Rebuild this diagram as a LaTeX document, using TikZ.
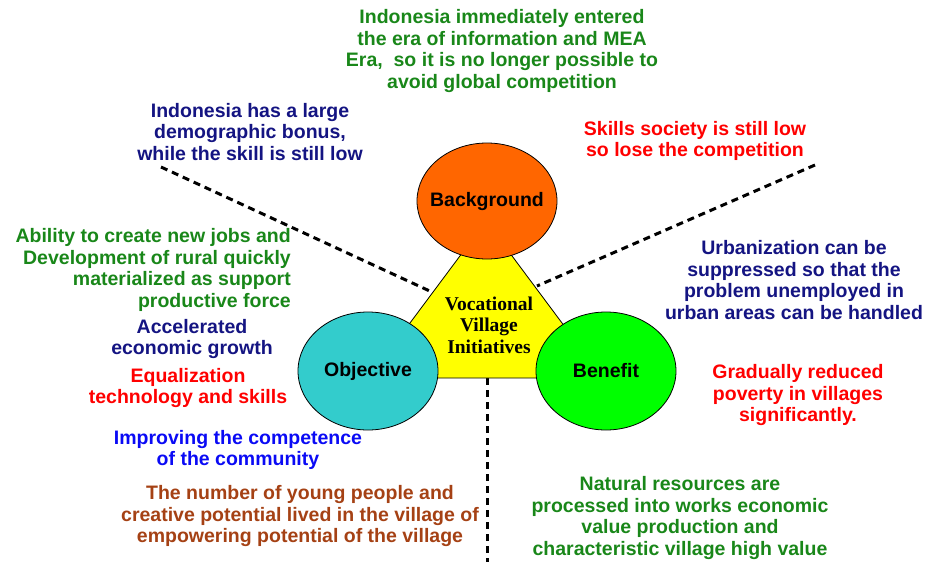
\documentclass[tikz,border=0pt]{standalone}
\usepackage{fontspec}
\setmainfont{Liberation Sans}
\newfontfamily\serifbold{Liberation Serif}
\usetikzlibrary{shapes.geometric}
\definecolor{tgreen}{RGB}{25,135,25}
\definecolor{tnavy}{RGB}{20,20,130}
\definecolor{tred}{RGB}{255,0,0}
\definecolor{tblue}{RGB}{10,10,245}
\definecolor{tbrown}{RGB}{165,65,20}
\definecolor{corange}{RGB}{255,102,0}
\definecolor{ccyan}{RGB}{51,204,204}
\definecolor{cgreen}{RGB}{0,255,0}
\definecolor{cyellow}{RGB}{255,255,0}
\tikzset{
  txt/.style={inner sep=0pt, align=center, font=\fontsize{19.5}{21.5}\selectfont\bfseries},
  bubble/.style={ellipse, draw=black, line width=0.8pt, minimum width=140pt, inner sep=0pt, font=\fontsize{19.5}{21.5}\selectfont\bfseries},
  dline/.style={line width=3pt, dash pattern=on 7pt off 5pt, black}
}
\begin{document}
\begin{tikzpicture}[x=1pt,y=-1pt]
\useasboundingbox (0,0) rectangle (927,562);
% connector ends
\coordinate (l0) at (161,167);
\coordinate (l1) at (434,293);
\coordinate (r0) at (815,165);
\coordinate (r1) at (537,286);
\coordinate (v0) at (487,378);
\coordinate (v1) at (487,562);
\draw[dline] (l0) -- (l1);
\draw[dline] (r0) -- (r1);
\draw[dline] (v0) -- (v1);
% triangle
\coordinate (ta) at (486,221);
\coordinate (tl) at (369,378);
\coordinate (tr) at (603,378);
\draw[fill=cyellow, line width=0.8pt] (ta) -- (tl) -- (tr) -- cycle;
\node[inner sep=0pt, align=center, font=\fontsize{19.5}{21.5}\selectfont\serifbold\bfseries] (center) at (489,325) {Vocational\\Village\\Initiatives};
% bubbles
\node[bubble, fill=corange, minimum height=116pt] (bg) at (487,201) {\makebox[0pt]{Background}};
\node[bubble, fill=ccyan, minimum height=118pt] (obj) at (368,371) {\makebox[0pt]{Objective}};
\node[bubble, fill=cgreen, minimum height=118pt] (ben) at (606,371) {\makebox[0pt]{Benefit}};
% texts
\node[txt, text=tgreen] (t1) at (502,51) {Indonesia immediately entered\\the era of information and MEA\\Era,\ \ so it is no longer possible to\\avoid global competition};
\node[txt, text=tnavy] (t2) at (250,132) {Indonesia has a large\\demographic bonus,\\while the skill is still low};
\node[txt, text=tred] (t3) at (695,141) {Skills society is still low\\so lose the competition};
\node[txt, text=tgreen, align=right, anchor=east] (t4) at (291,270) {Ability to create new jobs and\\Development of rural quickly\\materialized as support\\productive force};
\node[txt, text=tnavy] (t5) at (192,339) {Accelerated\\economic growth};
\node[txt, text=tred] (t6) at (188,388) {Equalization\\technology and skills};
\node[txt, text=tblue] (t7) at (238,450) {Improving the competence\\of the community};
\node[txt, text=tbrown] (t8) at (300,516) {The number of young people and\\creative potential lived in the village of\\empowering potential of the village};
\node[txt, text=tgreen] (t9) at (680,518) {Natural resources are\\processed into works economic\\value production and\\characteristic village high value};
\node[txt, text=tnavy] (t10) at (794,280) {Urbanization can be\\suppressed so that the\\problem unemployed in\\urban areas can be handled};
\node[txt, text=tred] (t11) at (798,395) {Gradually reduced\\poverty in villages\\significantly.};
\end{tikzpicture}
\end{document}
